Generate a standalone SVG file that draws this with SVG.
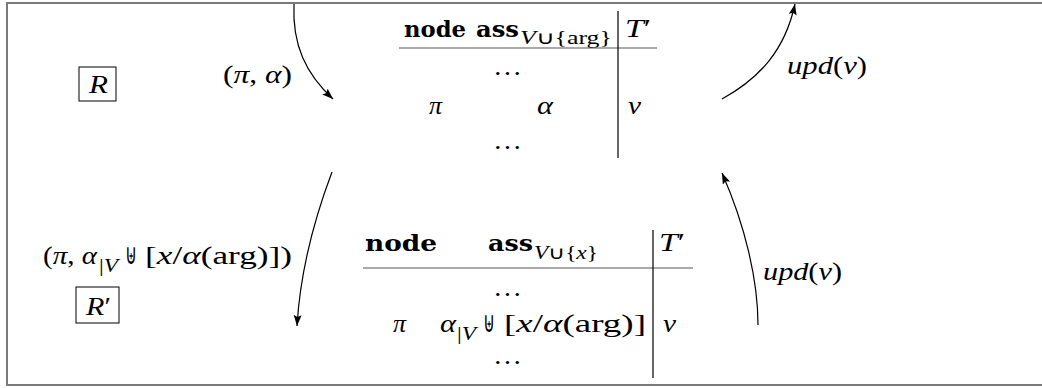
<svg xmlns="http://www.w3.org/2000/svg" width="1042" height="388" viewBox="0 0 1042 388">
<style>
.t{font-family:"Liberation Serif",serif;font-size:26px;fill:#000}
.i{font-style:italic}
.b{font-family:"DejaVu Serif","Liberation Serif",serif;font-weight:bold;font-size:22px}
.s{font-size:18px}
.u{font-family:"DejaVu Sans","Liberation Serif",sans-serif;font-size:29px}
.arr{fill:none;stroke:#000;stroke-width:1.2;marker-end:url(#ah)}
.rule{stroke:#555;stroke-width:1.2}
.vl{stroke:#000;stroke-width:1.2}
</style>
<defs>
<marker id="ah" markerUnits="userSpaceOnUse" markerWidth="12" markerHeight="9" refX="11" refY="4" orient="auto">
<path d="M0,0 L11,4 L0,8 L2,4 z" fill="#000"/>
</marker>
</defs>
<rect x="7" y="3" width="1050" height="382" fill="#fff" stroke="#7a7a7a" stroke-width="2"/>

<g id="R">
<rect x="79" y="67" width="37" height="34" fill="none" stroke="#000" stroke-width="1"/>
<text class="t i" x="89" y="93" textLength="19" lengthAdjust="spacingAndGlyphs">R</text>
</g>

<g id="Rprime">
<rect x="76" y="287" width="43" height="36" fill="none" stroke="#000" stroke-width="1"/>
<text class="t" x="86" y="315" textLength="25" lengthAdjust="spacingAndGlyphs"><tspan class="i">R</tspan>′</text>
</g>

<g id="table1">
<text class="t b" x="404" y="37" textLength="62" lengthAdjust="spacingAndGlyphs">node</text>
<text class="t b" x="476" y="37" textLength="43" lengthAdjust="spacingAndGlyphs">ass</text>
<text class="t s" x="520" y="44" textLength="92" lengthAdjust="spacingAndGlyphs"><tspan class="i">V</tspan>∪{arg}</text>
<text class="t" x="625" y="37" textLength="26" lengthAdjust="spacingAndGlyphs"><tspan class="i">T</tspan>′</text>
<line class="rule" x1="399" y1="48" x2="657" y2="48"/>
<line class="vl" x1="618" y1="11" x2="618" y2="158"/>
<text class="t" x="493" y="75" textLength="29" lengthAdjust="spacingAndGlyphs">…</text>
<text class="t i" x="429" y="114">π</text>
<text class="t i" x="537" y="114" textLength="16" lengthAdjust="spacingAndGlyphs">α</text>
<text class="t i" x="628" y="114" textLength="13" lengthAdjust="spacingAndGlyphs">v</text>
<text class="t" x="493" y="149" textLength="29" lengthAdjust="spacingAndGlyphs">…</text>
</g>

<g id="table2">
<text class="t b" x="365" y="251" textLength="72" lengthAdjust="spacingAndGlyphs">node</text>
<text class="t b" x="488" y="251" textLength="45" lengthAdjust="spacingAndGlyphs">ass</text>
<text class="t s" x="534" y="259" textLength="64" lengthAdjust="spacingAndGlyphs"><tspan class="i">V</tspan>∪{<tspan class="i">x</tspan>}</text>
<text class="t" x="659" y="251" textLength="26" lengthAdjust="spacingAndGlyphs"><tspan class="i">T</tspan>′</text>
<line class="rule" x1="363" y1="268" x2="693" y2="268"/>
<line class="vl" x1="653" y1="230" x2="653" y2="378"/>
<text class="t" x="493" y="296" textLength="29" lengthAdjust="spacingAndGlyphs">…</text>
<text class="t i" x="393" y="332">π</text>
<text class="t i" x="440" y="332" textLength="16" lengthAdjust="spacingAndGlyphs">α</text>
<text class="t s" x="457" y="340" textLength="19" lengthAdjust="spacingAndGlyphs">|<tspan class="i">V</tspan></text>
<text class="u" x="483" y="332" textLength="12" lengthAdjust="spacingAndGlyphs">⊎</text>
<text class="t" x="504" y="332" textLength="142" lengthAdjust="spacingAndGlyphs">[<tspan class="i">x</tspan>/<tspan class="i">α</tspan>(arg)]</text>
<text class="t i" x="663" y="332" textLength="13" lengthAdjust="spacingAndGlyphs">v</text>
<text class="t" x="493" y="364" textLength="29" lengthAdjust="spacingAndGlyphs">…</text>
</g>

<g id="labels">
<text class="t" x="223" y="83" textLength="69" lengthAdjust="spacingAndGlyphs">(<tspan class="i">π</tspan>, <tspan class="i">α</tspan>)</text>
<text class="t" x="787" y="74" textLength="80" lengthAdjust="spacingAndGlyphs"><tspan class="i">upd</tspan>(<tspan class="i">v</tspan>)</text>
<text class="t" x="763" y="280" textLength="79" lengthAdjust="spacingAndGlyphs"><tspan class="i">upd</tspan>(<tspan class="i">v</tspan>)</text>
<text class="t" x="43" y="264" textLength="54" lengthAdjust="spacingAndGlyphs">(<tspan class="i">π</tspan>, <tspan class="i">α</tspan></text>
<text class="t s" x="99" y="272" textLength="19" lengthAdjust="spacingAndGlyphs">|<tspan class="i">V</tspan></text>
<text class="u" x="125" y="264" textLength="12" lengthAdjust="spacingAndGlyphs">⊎</text>
<text class="t" x="145" y="264" textLength="147" lengthAdjust="spacingAndGlyphs">[<tspan class="i">x</tspan>/<tspan class="i">α</tspan>(arg)])</text>
</g>

<g id="connectors">
<path class="arr" d="M294,4 C292,45 306,74 333,99"/>
<path class="arr" d="M722,99 C760,78 785,50 795,4"/>
<path class="arr" d="M332,172 C312,225 300,275 297,326"/>
<path class="arr" d="M758,325 C758,280 745,225 722,173"/>
</g>
</svg>
